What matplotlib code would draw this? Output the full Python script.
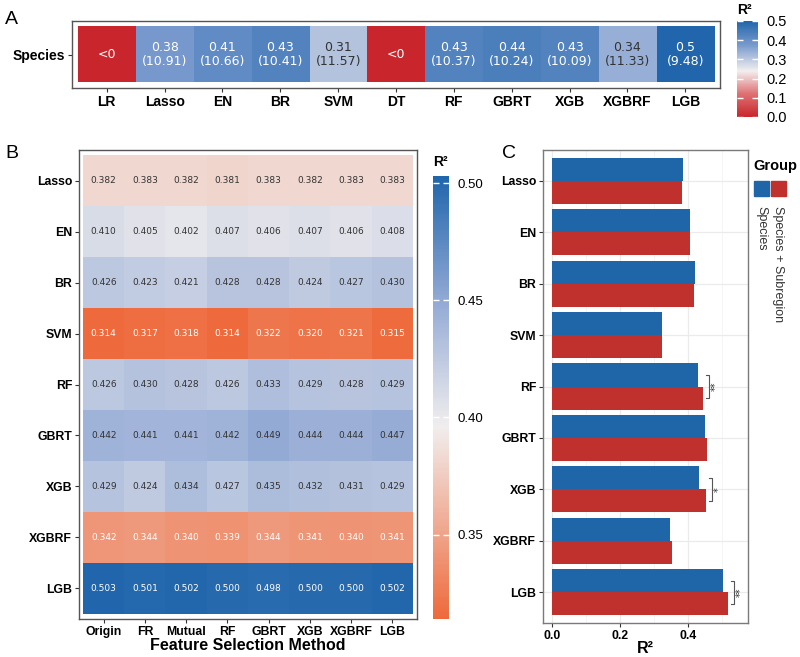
import numpy as np
import matplotlib
matplotlib.use("Agg")
import matplotlib.pyplot as plt
from matplotlib.colors import (LinearSegmentedColormap, ListedColormap,
                               TwoSlopeNorm, Normalize)
from matplotlib.cm import ScalarMappable
from matplotlib.patches import Rectangle

plt.rcParams["font.family"] = ["Liberation Sans", "DejaVu Sans"]

# ---- data ----
# panel A: R2 (None -> "<0") and RMSE per model
a_models = ["LR", "Lasso", "EN", "BR", "SVM", "DT", "RF", "GBRT", "XGB", "XGBRF", "LGB"]
a_r2 = [None, 0.38, 0.41, 0.43, 0.31, None, 0.43, 0.44, 0.43, 0.34, 0.5]
a_rmse = [None, 10.91, 10.66, 10.41, 11.57, None, 10.37, 10.24, 10.09, 11.33, 9.48]

# panel B: R2 by model (rows) x feature selection method (cols)
b_models = ["Lasso", "EN", "BR", "SVM", "RF", "GBRT", "XGB", "XGBRF", "LGB"]
b_methods = ["Origin", "FR", "Mutual", "RF", "GBRT", "XGB", "XGBRF", "LGB"]
b_lasso = [0.382, 0.383, 0.382, 0.381, 0.383, 0.382, 0.383, 0.383]
b_en = [0.410, 0.405, 0.402, 0.407, 0.406, 0.407, 0.406, 0.408]
b_br = [0.426, 0.423, 0.421, 0.428, 0.428, 0.424, 0.427, 0.430]
b_svm = [0.314, 0.317, 0.318, 0.314, 0.322, 0.320, 0.321, 0.315]
b_rf = [0.426, 0.430, 0.428, 0.426, 0.433, 0.429, 0.428, 0.429]
b_gbrt = [0.442, 0.441, 0.441, 0.442, 0.449, 0.444, 0.444, 0.447]
b_xgb = [0.429, 0.424, 0.434, 0.427, 0.435, 0.432, 0.431, 0.429]
b_xgbrf = [0.342, 0.344, 0.340, 0.339, 0.344, 0.341, 0.340, 0.341]
b_lgb = [0.503, 0.501, 0.502, 0.500, 0.498, 0.500, 0.500, 0.502]

# panel C: R2 for two feature groups
c_models = ["Lasso", "EN", "BR", "SVM", "RF", "GBRT", "XGB", "XGBRF", "LGB"]
c_species = [0.386, 0.408, 0.423, 0.323, 0.430, 0.451, 0.432, 0.347, 0.504]
c_subregion = [0.383, 0.406, 0.420, 0.325, 0.445, 0.458, 0.453, 0.353, 0.519]
c_sig = {"RF": "**", "XGB": "*", "LGB": "**"}

BLUE = "#1F66A8"
RED = "#C0302D"
DARK = "#333333"
BORDER = "#555555"

W, H = 800, 657


def rect(x0, y0, x1, y1):
    return [x0 / W, 1 - y1 / H, (x1 - x0) / W, (y1 - y0) / H]


def style_ticks(ax, size):
    ax.tick_params(length=3, width=0.8, color=DARK, labelsize=size, pad=2)
    for lab in ax.get_xticklabels() + ax.get_yticklabels():
        lab.set_fontweight("bold")
    for sp in ax.spines.values():
        sp.set_color(BORDER)
        sp.set_linewidth(1.0)


def colorbar(fig, cax, cmap, norm, ticks, fmt, size):
    # resample the (possibly two-slope) map onto a linear scale
    vals = np.linspace(norm.vmin, norm.vmax, 256)
    lin = ListedColormap(cmap(norm(vals)))
    cb = fig.colorbar(ScalarMappable(norm=Normalize(norm.vmin, norm.vmax),
                                     cmap=lin), cax=cax)
    cb.outline.set_visible(False)
    cb.set_ticks(ticks)
    cb.set_ticklabels([fmt.format(t) for t in ticks])
    cax.minorticks_off()
    cax.tick_params(which="both", direction="in", color="white", length=4,
                    width=1, left=True, right=True, labelsize=size, pad=6)
    return cb


fig = plt.figure(figsize=(8, 6.57), dpi=100)

# ---- panel A ----
cmap_a = LinearSegmentedColormap.from_list(
    "a", [(0, "#C8262C"), (0.25, "#DE7173"), (0.5, "#F3EFEF"),
          (0.75, "#7D9DCF"), (1, "#2166AC")])
cmap_a.set_bad("#C8262C")
norm_a = TwoSlopeNorm(vmin=0, vcenter=0.24, vmax=0.5)

ax_a = fig.add_axes(rect(72, 21, 720, 88))
vals_a = np.array([np.nan if v is None else v for v in a_r2])[None, :]
ax_a.imshow(np.ma.masked_invalid(vals_a), cmap=cmap_a, norm=norm_a,
            aspect="auto", extent=(-0.5, len(a_models) - 0.5, 0.5, -0.5))
for i, (r2, rm) in enumerate(zip(a_r2, a_rmse)):
    if r2 is None:
        txt, col = "<0", "white"
    else:
        txt = f"{r2:g}\n({rm:.2f})"
        col = "white" if r2 >= 0.36 else DARK
    ax_a.text(i, 0, txt, ha="center", va="center", color=col, fontsize=9,
              family="DejaVu Sans", linespacing=1.15)
ax_a.set_xlim(-0.6, len(a_models) - 0.4)
ax_a.set_ylim(0.6, -0.6)
ax_a.set_xticks(range(len(a_models)))
ax_a.set_xticklabels(a_models)
ax_a.set_yticks([0])
ax_a.set_yticklabels(["Species"])
style_ticks(ax_a, 10)

cax_a = fig.add_axes(rect(737, 21, 758, 117))
colorbar(fig, cax_a, cmap_a, norm_a,
         [0, 0.1, 0.2, 0.3, 0.4, 0.5], "{:.1f}", 10.5)
fig.text(737 / W, 1 - 10 / H, "R²", fontsize=10, fontweight="bold",
         ha="left", va="center")

# ---- panel B ----
b_values = np.array([b_lasso, b_en, b_br, b_svm, b_rf, b_gbrt, b_xgb,
                     b_xgbrf, b_lgb])
cmap_b = LinearSegmentedColormap.from_list(
    "b", [(0, "#EE6A3C"), (0.5, "#F1EEEE"), (0.75, "#93AAD5"), (1, "#2166AC")])
vmin_b, vmax_b = b_values.min(), b_values.max()
norm_b = TwoSlopeNorm(vmin=vmin_b, vcenter=0.396, vmax=vmax_b)

ax_b = fig.add_axes(rect(79, 150, 417, 619))
ax_b.imshow(b_values, cmap=cmap_b, norm=norm_b, aspect="auto",
            extent=(-0.5, len(b_methods) - 0.5, len(b_models) - 0.5, -0.5))
for r in range(len(b_models)):
    for c in range(len(b_methods)):
        v = b_values[r, c]
        col = "white" if (v < 0.36 or v > 0.47) else DARK
        ax_b.text(c, r, f"{v:.3f}", ha="center", va="center", color=col,
                  fontsize=6.5, family="DejaVu Sans")
ax_b.set_xlim(-0.6, len(b_methods) - 0.4)
ax_b.set_ylim(len(b_models) - 0.4, -0.6)
ax_b.set_xticks(range(len(b_methods)))
ax_b.set_xticklabels(b_methods)
ax_b.set_yticks(range(len(b_models)))
ax_b.set_yticklabels(b_models)
style_ticks(ax_b, 8.8)
ax_b.set_xlabel("Feature Selection Method", fontsize=11.5, fontweight="bold",
                labelpad=0)

cax_b = fig.add_axes(rect(433, 176, 449, 619))
colorbar(fig, cax_b, cmap_b, norm_b, [0.35, 0.40, 0.45, 0.50], "{:.2f}", 9.5)
fig.text(433 / W, 1 - 162 / H, "R²", fontsize=10, fontweight="bold",
         ha="left", va="center")

# ---- panel C ----
ax_c = fig.add_axes(rect(543, 150, 748, 623))
y = np.arange(len(c_models))
ax_c.set_axisbelow(True)
ax_c.set_xticks([0.1, 0.3, 0.5], minor=True)
ax_c.grid(True, which="major", color="#EBEBEB", lw=0.9)
ax_c.grid(True, which="minor", axis="x", color="#F2F2F2", lw=0.5)
ax_c.barh(y - 0.225, c_species, height=0.45, color=BLUE)
ax_c.barh(y + 0.225, c_subregion, height=0.45, color=RED)
for i, m in enumerate(c_models):
    if m in c_sig:
        xb = max(c_species[i], c_subregion[i]) + 0.018
        ax_c.plot([xb - 0.008, xb, xb, xb - 0.008],
                  [i - 0.225, i - 0.225, i + 0.225, i + 0.225],
                  color=BORDER, lw=0.8)
        ax_c.text(xb + 0.020, i, c_sig[m], rotation=90, ha="center",
                  va="center", fontsize=7, color=DARK, family="DejaVu Sans")
ax_c.set_xlim(-0.027, 0.578)
ax_c.set_ylim(len(c_models) - 0.4, -0.6)
ax_c.set_xticks([0, 0.2, 0.4])
ax_c.set_xticklabels(["0.0", "0.2", "0.4"])
ax_c.set_yticks(y)
ax_c.set_yticklabels(c_models)
ax_c.tick_params(which="minor", length=0)
style_ticks(ax_c, 8.8)
for sp in ax_c.spines.values():
    sp.set_color("#7A7A7A")
ax_c.set_xlabel("R²", fontsize=11.5, fontweight="bold", labelpad=-1)

# legend for panel C
fig.text(753 / W, 1 - 166 / H, "Group", fontsize=10.5, fontweight="bold",
         ha="left", va="center")
for (x0, col, lab) in [(754, BLUE, "Species"),
                       (771, RED, "Species + Subregion")]:
    fig.patches.append(Rectangle((x0 / W, 1 - 196 / H), 15 / W, 15 / H,
                                 transform=fig.transFigure, color=col))
    fig.text((x0 + 7.5) / W, 1 - 206 / H, lab, rotation=270, fontsize=9,
             ha="center", va="top", color=DARK)

# panel letters
fig.text(5 / W, 1 - 20 / H, "A", fontsize=14, ha="left", va="center")
fig.text(5 / W, 1 - 153 / H, "B", fontsize=14, ha="left", va="center")
fig.text(502 / W, 1 - 153 / H, "C", fontsize=14, ha="left", va="center")

fig.savefig("out.png", dpi=100)
